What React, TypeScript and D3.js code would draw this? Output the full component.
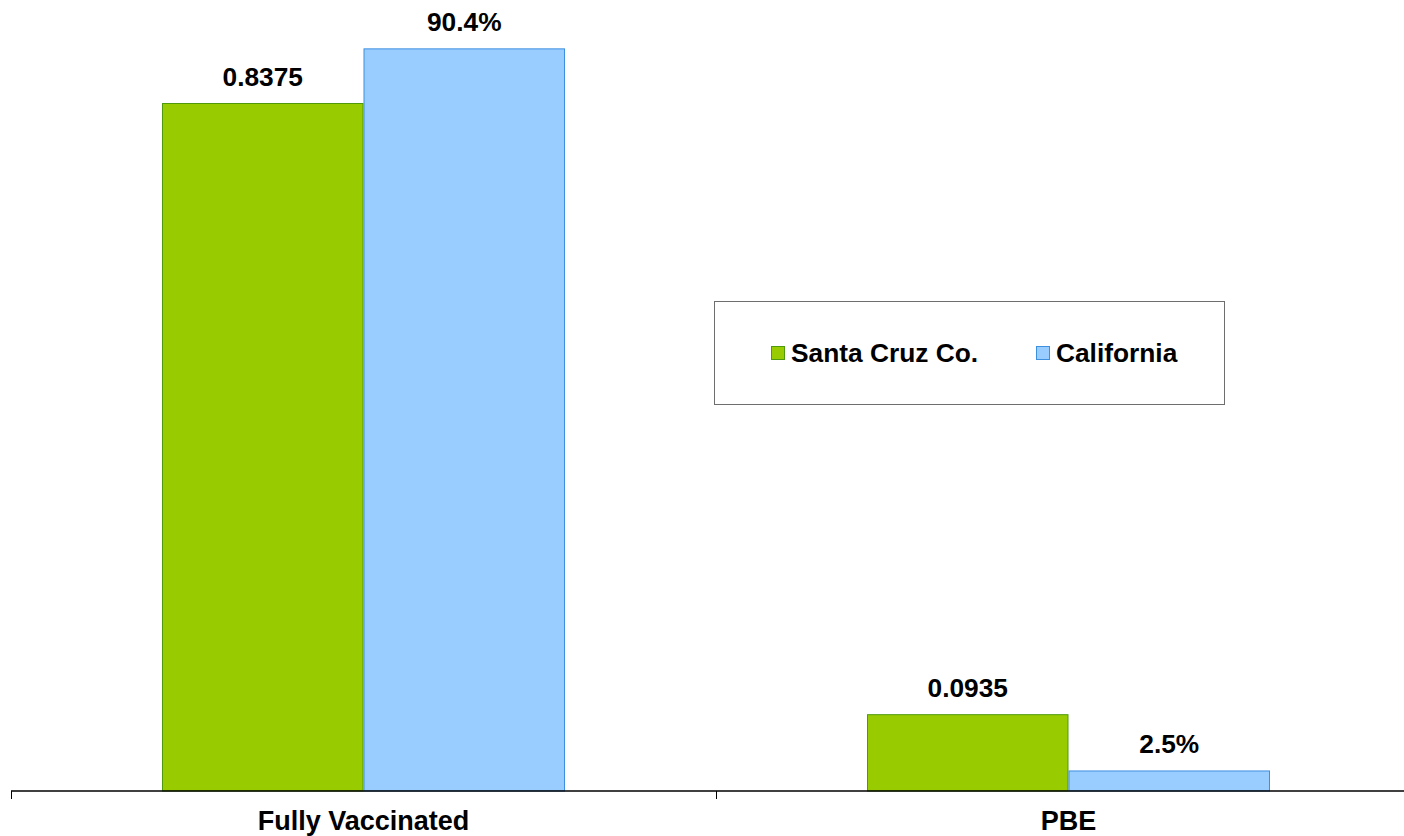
import React from "react";
import * as d3 from "d3";

const categories = ["Fully Vaccinated", "PBE"];
const seriesNames = ["Santa Cruz Co.", "California"];
const santaCruzValues = [0.8375, 0.0935];
const californiaValues = [0.904, 0.025];
const santaCruzLabels = ["0.8375", "0.0935"];
const californiaLabels = ["90.4%", "2.5%"];
const fills = ["#99cc00", "#99ccff"];
const strokes = ["#4f9a0c", "#3d8fe0"];

const W = 1404;
const H = 836;
const FONT = "'Liberation Sans', Arial, Helvetica, sans-serif";

export default function App() {
  const x0 = d3.scaleBand<string>().domain(categories).range([11, 1421]);
  const bw = x0.bandwidth();
  const x1 = d3.scaleBand<string>().domain(seriesNames).range([151, bw - 151]);
  const y = d3.scaleLinear().domain([0, 1]).range([791, -30.5]);

  const values = [santaCruzValues, californiaValues];
  const labels = [santaCruzLabels, californiaLabels];

  return (
    <svg
      width={W}
      height={H}
      style={{ position: "fixed", left: 0, top: 0, background: "#fff" }}
      fontFamily={FONT}
    >
      <rect x={0} y={0} width={W} height={H} fill="#fff" />
      {categories.map((c, ci) => (
        <g key={c}>
          {seriesNames.map((s, si) => {
            const v = values[si][ci];
            const bx = (x0(c) as number) + (x1(s) as number);
            const by = y(v);
            return (
              <g key={s}>
                <rect
                  x={bx + 0.5}
                  y={by + 0.5}
                  width={x1.bandwidth() - 1}
                  height={y(0) - by - 0.5}
                  fill={fills[si]}
                  stroke={strokes[si]}
                  strokeWidth={1}
                />
                <text
                  x={bx + x1.bandwidth() / 2}
                  y={by - 17}
                  textAnchor="middle"
                  fontSize={26.3}
                  fontWeight="bold"
                  fill="#000"
                >
                  {labels[si][ci]}
                </text>
              </g>
            );
          })}
          <text
            x={(x0(c) as number) + bw / 2}
            y={830}
            textAnchor="middle"
            fontSize={27}
            fontWeight="bold"
            fill="#000"
          >
            {c}
          </text>
        </g>
      ))}
      <line x1={11} x2={1421} y1={791} y2={791} stroke="#000" strokeWidth={1.5} />
      {categories.map((c) => (
        <line
          key={"t" + c}
          x1={(x0(c) as number) + 0.5}
          x2={(x0(c) as number) + 0.5}
          y1={791}
          y2={799}
          stroke="#000"
          strokeWidth={1}
        />
      ))}
      <g>
        <rect x={714.5} y={301.5} width={510} height={103} fill="#fff" stroke="#6e6e6e" strokeWidth={1} />
        {seriesNames.map((s, si) => {
          const lx = si === 0 ? 771 : 1036;
          return (
            <g key={"lg" + s}>
              <rect x={lx + 0.5} y={346.5} width={13} height={13} fill={fills[si]} stroke={strokes[si]} strokeWidth={1} />
              <text x={lx + 20} y={362} fontSize={26.3} fontWeight="bold" fill="#000">
                {s}
              </text>
            </g>
          );
        })}
      </g>
    </svg>
  );
}
